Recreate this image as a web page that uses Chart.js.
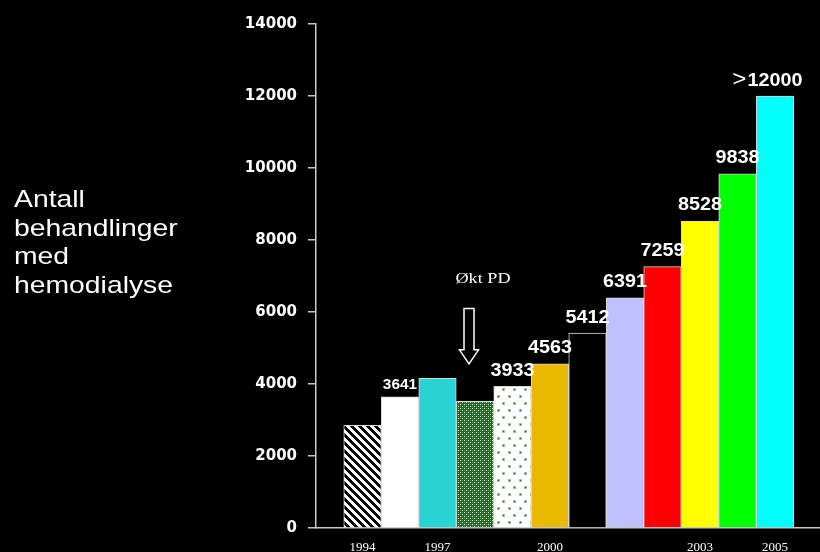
<!DOCTYPE html>
<html>
<head>
<meta charset="utf-8">
<script src="https://cdn.jsdelivr.net/npm/chart.js@4"></script>
<style>
  html, body { margin: 0; padding: 0; background: #000; overflow: hidden; }
  #wrap { position: relative; width: 820px; height: 552px; }
</style>
</head>
<body>
<div id="wrap"><canvas id="chart"></canvas></div>
<script>
// Yearly treatment counts
const xLabels = ['1994', '', '1997', '', '', '2000', '', '', '', '2003', '', '2005'];
const values = [2850, 3641, 4160, 3520, 3933, 4563, 5412, 6391, 7259, 8528, 9838, 12000];
const valueLabels = ['', '3641', '', '', '3933', '4563', '5412', '6391', '7259', '8528', '9838', '>12000'];
const yTitle = ['Antall', 'behandlinger', 'med', 'hemodialyse'];
const noteText = 'Økt PD';

// Small tiled fills for the patterned bars
function tile(w, h, paint) {
    const c = document.createElement('canvas');
    c.width = w;
    c.height = h;
    const g = c.getContext('2d');
    paint(g);
    return g.createPattern(c, 'repeat');
}

const stripes = tile(8, 8, g => {
    g.fillStyle = '#000';
    g.fillRect(0, 0, 8, 8);
    g.fillStyle = '#fff';
    for (let y = 0; y < 8; y++) {
        for (let x = 0; x < 8; x++) {
            if (((x - y + 8) % 8) < 4) g.fillRect(x, y, 1, 1);
        }
    }
});

const greenMesh = tile(4, 4, g => {
    g.fillStyle = '#1c6a1c';
    g.fillRect(0, 0, 4, 4);
    g.fillStyle = '#e0ece0';
    g.fillRect(0, 0, 1, 1);
    g.fillRect(2, 2, 1, 1);
    g.fillStyle = '#6a9a6a';
    g.fillRect(2, 0, 1, 1);
    g.fillRect(0, 2, 1, 1);
});

const greenDots = tile(11, 14, g => {
    g.fillStyle = '#fff';
    g.fillRect(0, 0, 11, 14);
    g.fillStyle = '#9fbf9f';
    g.fillRect(2, 3, 3, 3);
    g.fillRect(7, 10, 3, 3);
    g.fillStyle = '#1f5f1f';
    g.fillRect(3, 4, 1, 1);
    g.fillRect(8, 11, 1, 1);
});

const fills = [stripes, '#ffffff', '#2ad3d3', greenMesh, greenDots, '#e8b900',
    '#000000', '#c0c0ff', '#ff0000', '#ffff00', '#00ff00', '#00ffff'];

// Left-hand caption
const sideText = {
    id: 'sideText',
    afterDraw(chart) {
        const ctx = chart.ctx;
        ctx.save();
        ctx.fillStyle = '#fff';
        ctx.font = '24px "Liberation Sans", Arial, sans-serif';
        ctx.textBaseline = 'alphabetic';
        ctx.translate(14, 0);
        ctx.scale(1.18, 1);
        yTitle.forEach((t, i) => ctx.fillText(t, 0, 207 + i * 28.7));
        ctx.restore();
    }
};

// Numbers above the bars
const barValues = {
    id: 'barValues',
    afterDatasetsDraw(chart) {
        const ctx = chart.ctx;
        const meta = chart.getDatasetMeta(0);
        meta.data.forEach((bar, i) => {
            let txt = valueLabels[i];
            if (!txt) return;
            const small = i === 1;
            let prefix = '';
            if (txt[0] === '>') {
                prefix = '>';
                txt = txt.slice(1);
            }
            ctx.save();
            ctx.fillStyle = '#fff';
            ctx.textAlign = 'center';
            ctx.textBaseline = 'alphabetic';
            ctx.translate(bar.x, bar.y - (small ? 8 : 10.5));
            ctx.scale(1.1, 1);
            ctx.font = 'bold ' + (small ? 14 : 18) + 'px "Liberation Sans", Arial, sans-serif';
            ctx.fillText(txt, 0, 0);
            if (prefix) {
                const w = ctx.measureText(txt).width;
                ctx.font = '22px "Liberation Sans", Arial, sans-serif';
                ctx.textAlign = 'right';
                ctx.fillText(prefix, -w / 2 - 1, 0);
            }
            ctx.restore();
        });
    }
};

// "Økt PD" note with hollow arrow
const note = {
    id: 'note',
    afterDatasetsDraw(chart) {
        const { x, y } = chart.scales;
        const ctx = chart.ctx;
        const cx = x.getPixelForValue(2.84);
        const top = y.getPixelForValue(6100);
        const base = y.getPixelForValue(4950);
        const tip = y.getPixelForValue(4560);
        ctx.save();
        ctx.beginPath();
        ctx.moveTo(cx - 5, top);
        ctx.lineTo(cx + 5, top);
        ctx.lineTo(cx + 5, base);
        ctx.lineTo(cx + 9.5, base);
        ctx.lineTo(cx, tip);
        ctx.lineTo(cx - 9.5, base);
        ctx.lineTo(cx - 5, base);
        ctx.closePath();
        ctx.fillStyle = '#000';
        ctx.fill();
        ctx.strokeStyle = '#fff';
        ctx.lineWidth = 1.5;
        ctx.stroke();

        ctx.fillStyle = '#fff';
        ctx.textAlign = 'center';
        ctx.textBaseline = 'alphabetic';
        ctx.translate(cx + 14, y.getPixelForValue(6800));
        ctx.scale(1.3, 1);
        ctx.font = '14px "Liberation Serif", "Times New Roman", serif';
        ctx.fillText(noteText, 0, 0);
        ctx.restore();
    }
};

new Chart(document.getElementById('chart'), {
    type: 'bar',
    data: {
        datasets: [{
            data: values.map((v, i) => ({ x: i, y: v })),
            backgroundColor: fills,
            borderColor: '#d8d8d8',
            borderWidth: 1,
            categoryPercentage: 1,
            barPercentage: 1
        }]
    },
    options: {
        responsive: true,
        maintainAspectRatio: false,
        animation: false,
        layout: { padding: { left: 0, top: 24, right: 0, bottom: 0 } },
        plugins: {
            legend: { display: false },
            tooltip: { enabled: false }
        },
        scales: {
            x: {
                type: 'linear',
                offset: false,
                bounds: 'data',
                min: -1.24,
                max: 12.2,
                grid: { display: false, drawTicks: false },
                border: { color: '#c8c8c8', width: 1.5 },
                afterBuildTicks: scale => {
                    scale.ticks = xLabels.map((l, i) => ({ value: i })).filter(t => xLabels[t.value]);
                },
                afterFit: scale => { scale.height = 24; },
                ticks: {
                    color: '#fff',
                    padding: 12,
                    maxRotation: 0,
                    autoSkip: false,
                    font: { family: '"Liberation Serif", "Times New Roman", serif', size: 13 },
                    callback: v => xLabels[v]
                }
            },
            y: {
                min: 0,
                max: 14000,
                grid: { drawOnChartArea: false, color: '#c8c8c8', lineWidth: 1.5, tickLength: 8 },
                border: { color: '#c8c8c8', width: 1.5 },
                afterFit: scale => { scale.width = 316; },
                ticks: {
                    stepSize: 2000,
                    color: '#fff',
                    padding: 11,
                    font: { family: '"DejaVu Sans", sans-serif', size: 15, weight: 'bold' },
                    callback: v => String(v)
                }
            }
        }
    },
    plugins: [sideText, barValues, note]
});
</script>
</body>
</html>
